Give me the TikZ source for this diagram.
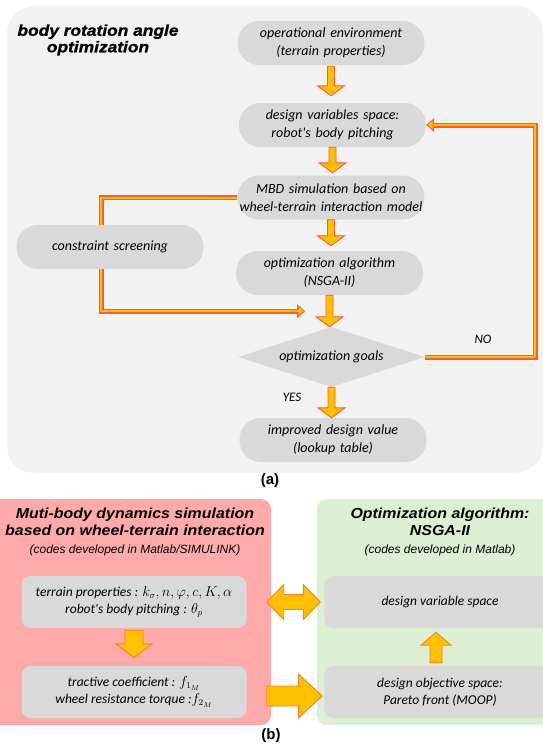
\documentclass[tikz,border=0pt]{standalone}
\usepackage{fontspec}
\setmainfont{Carlito}
\newfontfamily\headfont[FakeStretch=1.1]{Liberation Sans}
\newfontfamily\bigheadfont[FakeStretch=1.12,FakeBold=1]{Liberation Sans}
\newfontfamily\notefont{Liberation Sans}
\usetikzlibrary{calc,arrows.meta,shapes.geometric}

\definecolor{panelgray}{HTML}{F2F2F2}
\definecolor{boxgray}{HTML}{D9D9D9}
\definecolor{arrowfill}{HTML}{FFC000}
\definecolor{arrowedge}{HTML}{FF5A36}
\definecolor{arrowedgeb}{HTML}{F4812F}
\definecolor{simred}{HTML}{FFAAAA}
\definecolor{optgreen}{HTML}{DCEFD2}

% block arrow, vertical: [style]{from}{tip}{shaft half}{head half}{head length}
\newcommand\vblock[6][]{%
  \draw[block,#1] let \p1=#2, \p2=#3, \n1={(\y2-\y1)/abs(\y2-\y1)} in
    (\x1-#4,\y1) -- (\x1-#4,\y2-\n1*#6) -- (\x1-#5,\y2-\n1*#6) -- (\x1,\y2)
    -- (\x1+#5,\y2-\n1*#6) -- (\x1+#4,\y2-\n1*#6) -- (\x1+#4,\y1) -- cycle;}
% block arrow, horizontal
\newcommand\hblock[6][]{%
  \draw[block,#1] let \p1=#2, \p2=#3, \n1={(\x2-\x1)/abs(\x2-\x1)} in
    (\x1,\y1-#4) -- (\x2-\n1*#6,\y1-#4) -- (\x2-\n1*#6,\y1-#5) -- (\x2,\y1)
    -- (\x2-\n1*#6,\y1+#5) -- (\x2-\n1*#6,\y1+#4) -- (\x1,\y1+#4) -- cycle;}
% block arrow, both ends
\newcommand\hhblock[6][]{%
  \draw[block,#1] let \p1=#2, \p2=#3 in
    (\x1,\y1) -- (\x1+#6,\y1+#5) -- (\x1+#6,\y1+#4) -- (\x2-#6,\y1+#4)
    -- (\x2-#6,\y1+#5) -- (\x2,\y1) -- (\x2-#6,\y1-#5) -- (\x2-#6,\y1-#4)
    -- (\x1+#6,\y1-#4) -- (\x1+#6,\y1-#5) -- cycle;}

\tikzset{
  flowbox/.style={rectangle, rounded corners=21.5pt, fill=boxgray, text width=183pt,
    minimum height=44pt, inner sep=2pt, align=center, font=\fontsize{14}{18}\selectfont\itshape},
  decision/.style={diamond, fill=boxgray, minimum width=187pt, minimum height=60pt,
    inner sep=0pt, aspect=3, font=\fontsize{14}{18}\selectfont\itshape},
  infobox/.style={rectangle, rounded corners=9pt, fill=boxgray, minimum width=225pt,
    minimum height=52pt, align=center, font=\fontsize{13.5}{16.5}\selectfont\itshape},
  headtitle/.style={align=center, font=\headfont\itshape\fontsize{14.5}{17.5}\selectfont},
  yesno/.style={font=\fontsize{13}{15}\selectfont\itshape},
  caption/.style={font=\notefont\bfseries\fontsize{15}{18}\selectfont},
  block/.style={fill=arrowfill, draw=arrowedge, line width=0.9pt, line join=miter},
  blockb/.style={draw=arrowedgeb},
  loopout/.style={draw=arrowedge, line width=5pt, -{Triangle[length=8pt,width=14pt,line width=0pt]}},
  loopin/.style={draw=arrowfill, line width=2pt, shorten >=1.5pt, -{Triangle[length=5pt,width=8.5pt,line width=0pt]}}
}

\begin{document}
\begin{tikzpicture}[x=1pt, y=-1pt]
  % page frame
  \useasboundingbox (0,0) rectangle (543,748);
  % panel (a)
  \fill[panelgray, rounded corners=27pt] (7,6) rectangle (543,473);
  \node[headtitle, font=\bigheadfont\bfseries\itshape\fontsize{15.5}{16.5}\selectfont] (atitle) at (98,40) {body rotation angle\\optimization};
  % flow chart boxes
  \node[flowbox] (env) at (331,43) {operational environment\\(terrain properties)};
  \node[flowbox] (dv) at (332.5,125) {design variables space:\\robot\textquotesingle s body pitching};
  \node[flowbox] (mbd) at (331,197.5) {MBD simulation based on\\wheel-terrain interaction model};
  \node[flowbox] (opt) at (329.5,273) {optimization algorithm\\(NSGA-II)};
  \node[decision] (goal) at (331.5,357) {optimization goals};
  \node[flowbox] (imp) at (333,440) {improved design value\\(lookup table)};
  % where the constraint line ends
  \coordinate (cjoin) at ($(opt.south)+(-24.5,16)$);
  % side lines
  \draw[loopout] (mbd.west) -- ++(-136,0) |- (cjoin);
  \draw[loopin] (mbd.west) -- ++(-136,0) |- (cjoin);
  \draw[loopout] (goal.east) -- ++(110,0) |- (dv.east);
  \draw[loopin] (goal.east) -- ++(110,0) |- (dv.east);
  \node[flowbox] (cons) at (110,247) {constraint screening};
  % block arrows
  \vblock{($(env.south)+(0,1)$)}{($(dv.north)+(0,-7)$)}{3.5pt}{13.5pt}{10pt}
  \vblock{(dv.south)}{($(mbd.north)+(0,-2.5)$)}{3.5pt}{13.5pt}{10pt}
  \vblock{(mbd.south)}{($(opt.north)+(0,-5)$)}{3.5pt}{13.5pt}{10pt}
  \vblock{(opt.south)}{(goal.north)}{3.5pt}{13.5pt}{10pt}
  \vblock{(goal.south)}{(imp.north)}{3.5pt}{13.5pt}{10pt}
  % answers
  \node[yesno] (yes) at (292,397) {YES};
  \node[yesno] (no) at (483,339) {NO};
  \node[caption] (capa) at (270,481) {(a)};

  % panel (b)
  \fill[simred, rounded corners=10pt] (-12,499) rectangle (271,725);
  \fill[optgreen, rounded corners=10pt] (317,499) rectangle (565,725);
  \node[headtitle] (simtitle) at (135,531.5) {{\bfseries Muti-body dynamics simulation}\\
    {\bfseries based on wheel-terrain interaction}\\
    {\notefont\fontsize{12}{17.5}\selectfont (codes developed in Matlab/SIMULINK)}};
  \node[headtitle] (opttitle) at (440,531.5) {{\bfseries Optimization algorithm:}\\
    {\bfseries NSGA-II}\\
    {\notefont\fontsize{12}{17.5}\selectfont (codes developed in Matlab)}};
  % inner boxes
  \node[infobox] (terr) at (134,602) {terrain properties : $k_\sigma, n, \varphi, c, K, \alpha$\\robot\textquotesingle s body pitching : $\theta_p$};
  \node[infobox] (tract) at (134,692) {tractive coefficient : $f_{1_M}$\\wheel resistance torque :$f_{2_M}$};
  \node[infobox, minimum width=231pt] (dvs) at (440,602) {design variable space};
  \node[infobox, minimum width=231pt] (obj) at (440,692) {design objective space:\\Pareto front (MOOP)};
  % block arrows
  \vblock[blockb]{($(terr.south)+(0,2)$)}{($(tract.north)+(0,-8)$)}{9pt}{18pt}{14pt}
  \vblock[blockb]{($(obj.north)+(-4,-3)$)}{($(dvs.south)+(-4,4)$)}{6pt}{15pt}{13pt}
  \hhblock[blockb]{($(terr.east)+(20,0)$)}{($(dvs.west)+(-4,0)$)}{7.5pt}{17.5pt}{17pt}
  \hblock[blockb]{($(tract.east)+(20,4)$)}{($(obj.west)+(-2,4)$)}{10pt}{22pt}{24pt}
  \node[caption] (capb) at (271,736) {(b)};
\end{tikzpicture}
\end{document}
